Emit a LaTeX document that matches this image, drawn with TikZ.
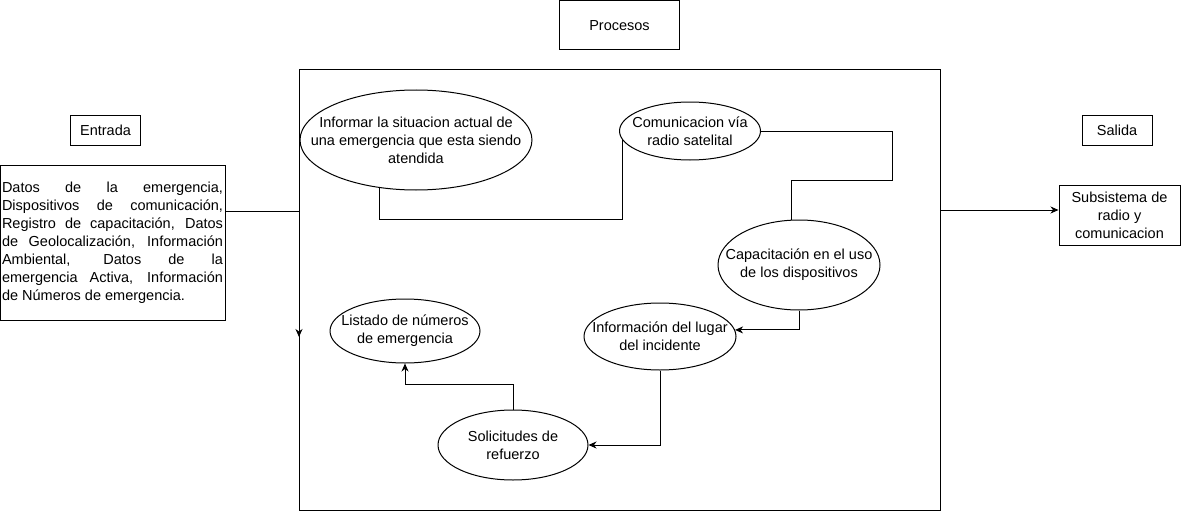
\documentclass[tikz,border=0pt]{standalone}
\usepackage{fontspec}
\setmainfont{Liberation Sans}
\usetikzlibrary{shapes.geometric,arrows.meta}
\begin{document}
\begin{tikzpicture}[x=1pt,y=-1pt,
  every node/.style={font=\fontsize{14.5}{18}\selectfont, text=black},
  box/.style={draw, line width=1pt, rectangle, inner sep=0pt, align=center},
  proc/.style={draw, line width=1pt, ellipse, inner sep=0pt},
  ptext/.style={align=center, inner sep=0pt},
  conn/.style={draw, line width=1pt},
  arr/.style={conn, -{Stealth[length=8pt,width=7pt,inset=2.5pt]}}]
\useasboundingbox (0,0) rectangle (1181,511);
% title boxes
\node[box, minimum width=120pt, minimum height=49pt] (tproc) at (619.5,25.5) {Procesos};
\node[box, minimum width=70pt, minimum height=30pt] (tin) at (105.5,130) {Entrada};
\node[box, minimum width=70pt, minimum height=30pt] (tout) at (1117,130) {Salida};
% main frame
\node[draw, line width=1pt, rectangle, minimum width=641pt, minimum height=440pt, inner sep=0pt] (frame) at (619.5,290) {};
% input box
\node[draw, line width=1pt, rectangle, minimum width=225pt, minimum height=155pt, inner xsep=2pt, inner ysep=0pt, text width=221pt, align=justify] (inp) at (112.5,242.5)
 {Datos de la emergencia,\linebreak Dispositivos de comunicación,\linebreak Registro de capacitación, Datos\linebreak de Geolocalización, Información\linebreak Ambiental, Datos de la\linebreak emergencia Activa, Información\linebreak de Números de emergencia.};
% output box
\node[box, minimum width=121pt, minimum height=60pt] (out) at (1119.5,215) {Subsistema de\\radio y\\comunicacion};
% processes
\node[proc, minimum width=232pt, minimum height=100pt, label={[ptext]center:{Informar la situacion actual de\\una emergencia que esta siendo\\atendida}}] (infm) at (416,140) {};
\node[proc, minimum width=141pt, minimum height=58pt, label={[ptext]center:{Comunicacion vía\\radio satelital}}] (com) at (690,131) {};
\node[proc, minimum width=162pt, minimum height=90pt, label={[ptext]center:{Capacitación en el uso\\de los dispositivos}}] (cap) at (799,265) {};
\node[proc, minimum width=152pt, minimum height=67pt, label={[ptext]center:{Información del lugar\\del incidente}}] (info) at (660,336.5) {};
\node[proc, minimum width=150pt, minimum height=64pt, label={[ptext]center:{Listado de números\\de emergencia}}] (lis) at (405,331) {};
\node[proc, minimum width=150pt, minimum height=70pt, label={[ptext]center:{Solicitudes de\\refuerzo}}] (sol) at (513,445) {};
% connectors
\coordinate (inpend) at (299,337);
\draw[arr] ([yshift=31.5pt]inp.east) -| (inpend);
\draw[arr] (frame.east |- 0,210) -- (out.west |- 0,210);
\draw[conn] (infm.233) -- ++(0,31.5) -| (com.188);
\coordinate (k1) at (892,180);
\draw[conn] (com.east) -| (k1) -| (cap.100);
\draw[arr] (cap.south) |- (info.5);
\draw[arr] (info.south) |- (sol.east);
\draw[arr] (sol.north) -- ++(0,-25) -| (lis.south);
\end{tikzpicture}
\end{document}
